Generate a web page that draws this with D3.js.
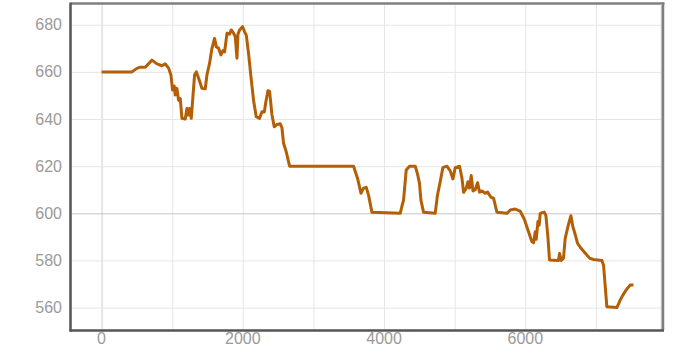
<!DOCTYPE html>
<html>
<head>
<meta charset="utf-8">
<script src="https://cdn.jsdelivr.net/npm/d3@7"></script>
<style>
  html, body { margin: 0; padding: 0; background: #fff; }
  svg { display: block; }
  .tick-label { font-family: "Liberation Sans", Arial, sans-serif; font-size: 16px; fill: #9a9a9a; }
</style>
</head>
<body>
<div id="chart"></div>
<script>
// ---------------- data ----------------
const xValues = [0, 430, 500, 548, 619, 713, 784, 855, 902, 949, 982, 1005, 1029, 1043, 1067, 1090, 1114, 1138, 1185, 1209,
  1232, 1246, 1270, 1317, 1341, 1373, 1421, 1468, 1492, 1529, 1563, 1600, 1624, 1657, 1690, 1719, 1742, 1776, 1812, 1836,
  1869, 1893, 1917, 1931, 1954, 1996, 2025, 2049, 2081, 2115, 2152, 2190, 2237, 2271, 2304, 2327, 2356, 2379, 2413, 2445,
  2483, 2530, 2554, 2577, 2615, 2662, 3568, 3625, 3673, 3710, 3748, 3781, 3828, 4229, 4253, 4276, 4314, 4361, 4442, 4474,
  4502, 4522, 4559, 4724, 4757, 4795, 4833, 4890, 4937, 4975, 5008, 5069, 5103, 5126, 5164, 5188, 5210, 5234, 5259, 5291,
  5324, 5352, 5386, 5433, 5466, 5514, 5551, 5598, 5740, 5787, 5857, 5928, 5985, 6046, 6093, 6117, 6141, 6155, 6179, 6197,
  6211, 6268, 6292, 6320, 6343, 6470, 6485, 6509, 6541, 6565, 6603, 6636, 6646, 6674, 6707, 6740, 6778, 6816, 6863, 6909,
  6966, 7085, 7108, 7155, 7297, 7344, 7382, 7429, 7486, 7532];

const yValues = [660, 660, 661.5, 662, 662, 665, 663.4, 662.6, 663.4, 661.6, 658.7, 652.3, 654, 650.2, 653, 648, 648.7, 640.3, 640, 644.5,
  641.7, 644.5, 640.3, 658.7, 660, 657.4, 653, 652.8, 658.7, 663.6, 670, 674.2, 670.7, 670, 667.2, 669, 668.5, 676.4, 676, 677.8,
  676.4, 675, 665.8, 676, 677.8, 679.2, 677, 675.6, 667.9, 658, 648, 641, 640.3, 643.1, 643, 647.4, 652, 651.7, 641.7, 636.7,
  637.7, 638, 636.3, 629.7, 626.1, 620, 620, 614.8, 608.5, 610.7, 611, 607.6, 600.5, 600, 603, 605.6, 618.4, 620, 620, 616.6,
  612.7, 605.6, 600.5, 600, 607.8, 613.4, 619.4, 620, 618, 614.6, 619.4, 620, 615, 608.9, 610.7, 613.4, 610.7, 616, 609.5, 610,
  613, 609, 609.5, 608.5, 609, 606.8, 606.4, 600.5, 600, 601.4, 601.8, 600.9, 597.6, 592.2, 588, 587.5, 592.2, 589, 596.5, 595,
  600, 600.5, 599, 590, 580.2, 580, 583, 580, 581, 589.4, 594.3, 597.9, 599, 594.3, 591, 587.3, 585.6, 584.2, 582.6, 581,
  580.4, 580, 578, 560.4, 560, 563.2, 565.3, 567.5, 569.6, 569.6];

const xTickLabels = [0, 2000, 4000, 6000];
const xGrid = [0, 1000, 2000, 3000, 4000, 5000, 6000, 7000];
const yTickLabels = [560, 580, 600, 620, 640, 660, 680];

// ---------------- chart ----------------
const w = 678;
const h = 347;
const plot = { left: 71, right: 663, top: 4, bottom: 330 };

const points = xValues.map((x, i) => ({ x: x, y: yValues[i] }));

const xScale = d3.scaleLinear()
  .domain([-433, 7950])
  .range([plot.left, plot.right]);

const yScale = d3.scaleLinear()
  .domain([550.5, 688.8])
  .range([plot.bottom, plot.top]);

const svg = d3.select("#chart").append("svg")
  .attr("width", w)
  .attr("height", h);

// grid lines
svg.append("g").selectAll("line")
  .data(xGrid)
  .join("line")
  .attr("x1", d => xScale(d) + 0.5)
  .attr("x2", d => xScale(d) + 0.5)
  .attr("y1", plot.top)
  .attr("y2", plot.bottom)
  .attr("stroke", d => d === 0 ? "#cfcfcf" : "#e6e6e6")
  .attr("stroke-width", 1);

svg.append("g").selectAll("line")
  .data(yTickLabels)
  .join("line")
  .attr("x1", plot.left)
  .attr("x2", plot.right)
  .attr("y1", d => yScale(d) + 0.5)
  .attr("y2", d => yScale(d) + 0.5)
  .attr("stroke", d => d === 600 ? "#c4c4c4" : "#e6e6e6")
  .attr("stroke-width", 1);

// the data line
const line = d3.line()
  .x(d => xScale(d.x))
  .y(d => yScale(d.y));

svg.append("path")
  .datum(points)
  .attr("d", line)
  .attr("fill", "none")
  .attr("stroke", "#b45f06")
  .attr("stroke-width", 3)
  .attr("stroke-linejoin", "round");

// frame: light top / right, dark left / bottom
svg.append("line")
  .attr("x1", plot.left).attr("x2", plot.right + 1.5)
  .attr("y1", plot.top - 0.5).attr("y2", plot.top - 0.5)
  .attr("stroke", "#7f7f7f").attr("stroke-width", 2.5);
svg.append("line")
  .attr("x1", plot.right - 1.5).attr("x2", plot.right - 1.5)
  .attr("y1", plot.top).attr("y2", plot.bottom)
  .attr("stroke", "#d0d0d0").attr("stroke-width", 1.5);
svg.append("line")
  .attr("x1", plot.right).attr("x2", plot.right)
  .attr("y1", plot.top - 1.5).attr("y2", plot.bottom)
  .attr("stroke", "#7f7f7f").attr("stroke-width", 2.5);
svg.append("line")
  .attr("x1", plot.left - 0.5).attr("x2", plot.left - 0.5)
  .attr("y1", plot.top - 1.5).attr("y2", plot.bottom + 1.5)
  .attr("stroke", "#555").attr("stroke-width", 2.5);
svg.append("line")
  .attr("x1", plot.left - 1.5).attr("x2", plot.right + 1)
  .attr("y1", plot.bottom + 0.5).attr("y2", plot.bottom + 0.5)
  .attr("stroke", "#555").attr("stroke-width", 2.5);

// tick labels
svg.append("g").selectAll("text")
  .data(yTickLabels)
  .join("text")
  .attr("class", "tick-label")
  .attr("x", 62)
  .attr("y", d => yScale(d))
  .attr("dy", "0.35em")
  .attr("text-anchor", "end")
  .text(d => d);

svg.append("g").selectAll("text")
  .data(xTickLabels)
  .join("text")
  .attr("class", "tick-label")
  .attr("x", d => xScale(d))
  .attr("y", 344)
  .attr("text-anchor", "middle")
  .text(d => d);
</script>
</body>
</html>
